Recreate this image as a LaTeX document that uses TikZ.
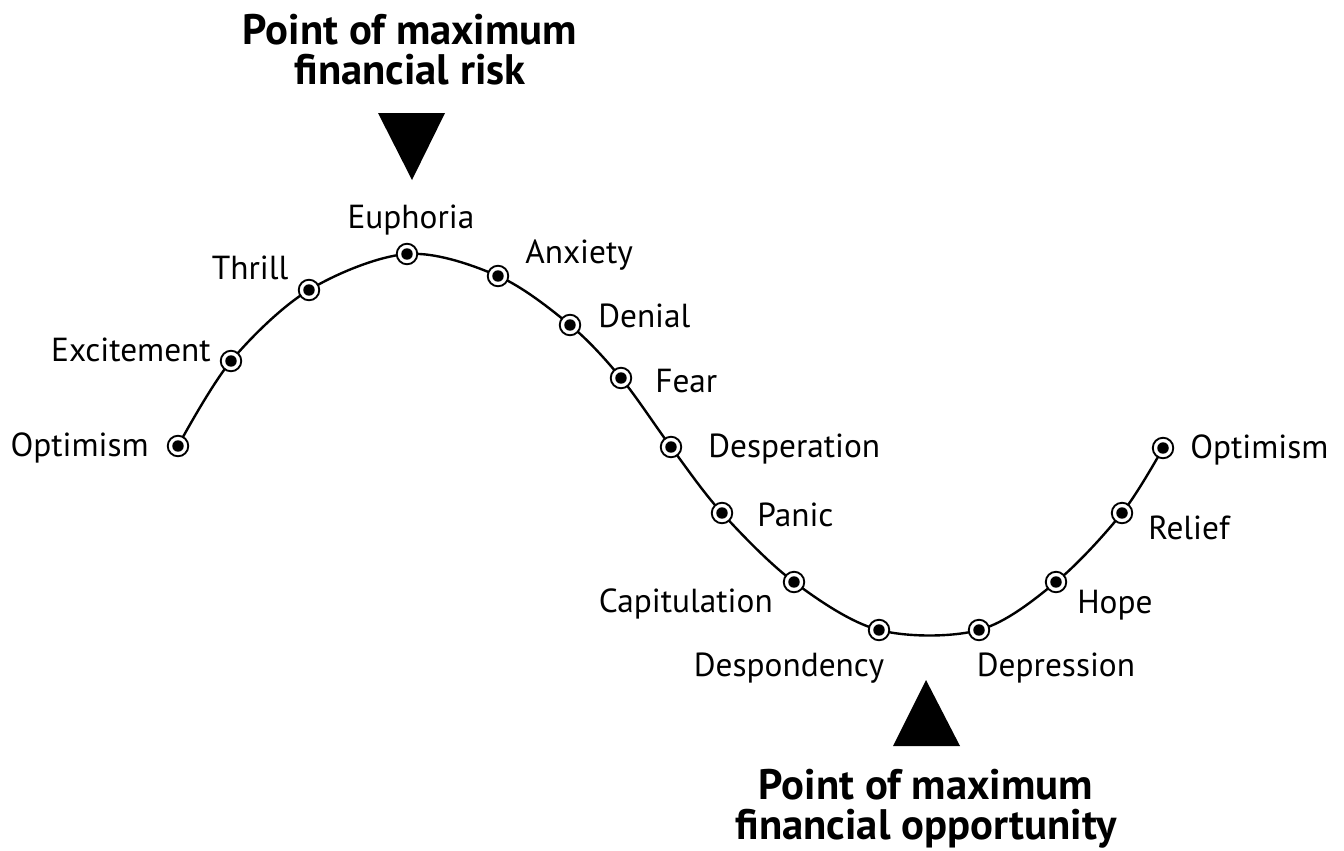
\documentclass[tikz,border=0pt]{standalone}
\usepackage{fontspec}
\setmainfont{PT Sans}
\usetikzlibrary{positioning}

\tikzset{
  stage/.style={circle, draw, line width=1.4pt, fill=white, minimum size=15.4pt, inner sep=0pt},
  mood/.style={font=\fontsize{25}{29}\selectfont, inner sep=0pt},
  headline/.style={font=\bfseries\fontsize{32}{30}\selectfont, align=center, inner sep=0pt}
}

\begin{document}
\begin{tikzpicture}[x=0.75pt, y=-0.75pt]
\useasboundingbox (0,0) rectangle (1344,850);
% points on the cycle
\foreach \n/\px/\py in {1/178/446, 2/231/361, 3/309/290, 4/407/254, 5/498/276,
  6/570/325, 7/621/378, 8/671/447, 9/722/513, 10/794/582, 11/879/630,
  12/979/630, 13/1056/582, 14/1122/513, 15/1163/448}
  \coordinate (p\n) at (\px,\py);
\draw[line width=1.8pt] plot[smooth, tension=0.55] coordinates {(p1) (p2) (p3) (p4) (p5)
  (p6) (p7) (p8) (p9) (p10) (p11) (p12) (p13) (p14) (p15)};
\foreach \n in {1,...,15} {
  \node[stage] (s\n) at (p\n) {};
  \fill (s\n.center) circle (4.3pt);
}

% stage names
\foreach \n/\lx/\ly/\anc/\txt in {1/149/448/east/Optimism, 2/211/350/east/Excitement,
  3/250/268/center/Thrill, 4/411/220/center/Euphoria, 5/525/255/west/Anxiety,
  6/598/316/west/Denial, 7/655/381/west/Fear, 8/708/449/west/Desperation,
  9/757/515/west/Panic, 10/773/604/east/Capitulation, 11/789/668/center/Despondency,
  12/1056/668/center/Depression, 13/1077/605/west/Hope, 14/1148/528/west/Relief,
  15/1190/450/west/Optimism}
  \node[mood, anchor=\anc] (t\n) at (\lx,\ly) {\txt};

% risk and opportunity
\node[headline] (risk) at (410,50) {Point of maximum\\financial risk};
\fill (378,113) -- (445,113) -- (412,180) -- cycle;
\node[headline] (chance) at (926,809) {Point of maximum\\financial opportunity};
\fill (893,746) -- (960,746) -- (926,680) -- cycle;
\end{tikzpicture}
\end{document}
